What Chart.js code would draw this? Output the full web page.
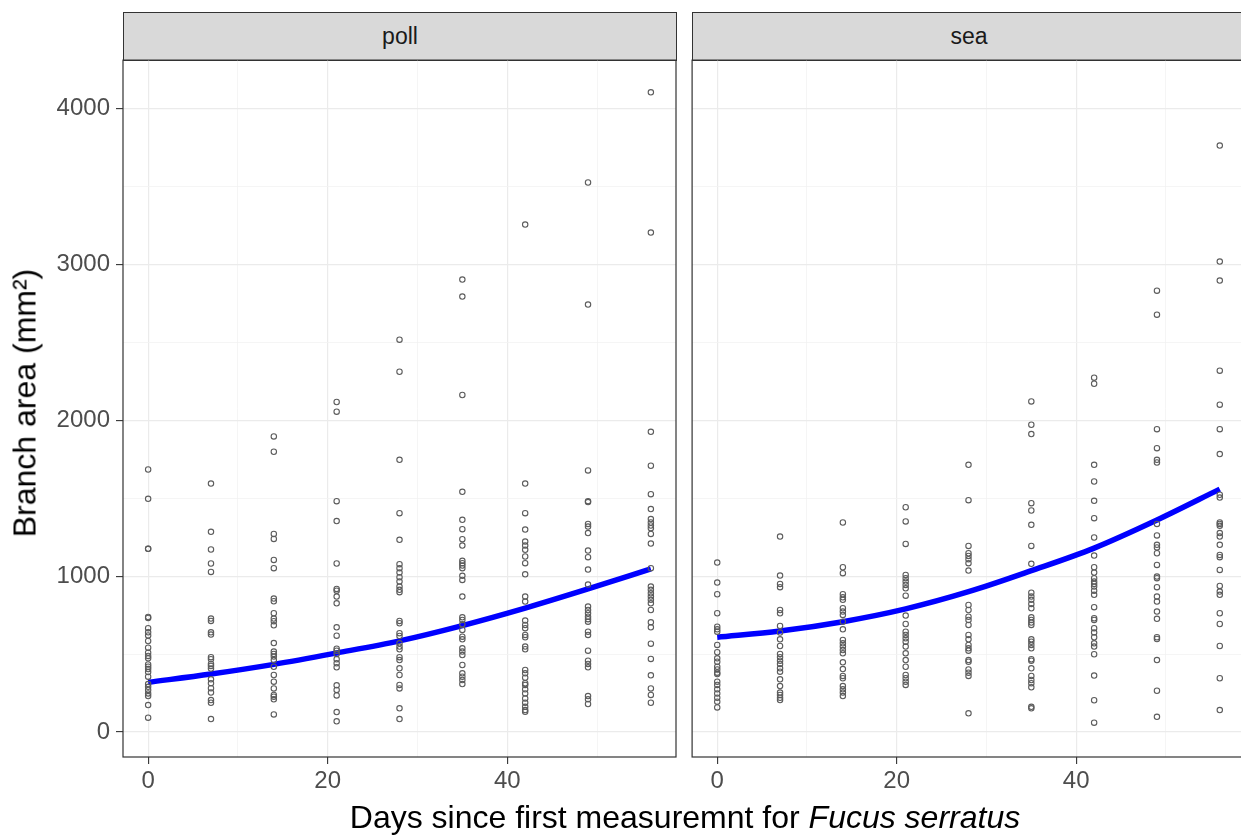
<!DOCTYPE html>
<html>
<head>
<meta charset="utf-8">
<script src="https://cdn.jsdelivr.net/npm/chart.js@4.4.1/dist/chart.umd.min.js"></script>
<style>
  body { margin: 0; width: 1241px; height: 836px; overflow: hidden; background: #fff;
         position: relative; font-family: "Liberation Sans", Arial, sans-serif; }
  .strip { position: absolute; top: 12px; height: 49px; width: 554px; box-sizing: border-box;
           background: #d9d9d9; border: 1.2px solid #333; color: #1a1a1a; font-size: 23px;
           text-align: center; line-height: 46px; }
  .wrap { position: absolute; top: 55px; }
  #ytitle { position: absolute; left: 25px; top: 403px; transform: translate(-50%, -50%) rotate(-90deg);
            font-size: 32px; white-space: nowrap; color: #000; }
  #xtitle { position: absolute; left: 685px; top: 817px; transform: translate(-50%, -50%);
            font-size: 32px; white-space: nowrap; color: #000; }
</style>
</head>
<body>
<div class="strip" style="left:123px">poll</div>
<div class="strip" style="left:692px">sea</div>
<div class="wrap" style="left:0px"><canvas id="pollChart" width="682" height="781"></canvas></div>
<div class="wrap" style="left:687px"><canvas id="seaChart" width="563" height="781"></canvas></div>
<div id="ytitle">Branch area (mm²)</div>
<div id="xtitle">Days since first measuremnt for <i>Fucus serratus</i></div>
<script>
// sampling days (x) and branch areas, one list per day
const days = [0, 7, 14, 21, 28, 35, 42, 49, 56];

const pollAreas = [
  [1684, 1496, 1175, 1175, 738, 732, 666, 640, 620, 584, 541, 509, 488, 473, 434, 419, 404, 385, 355, 308, 290, 270, 248, 231, 173, 92],
  [1594, 1284, 1171, 1081, 1027, 728, 713, 640, 625, 480, 467, 437, 424, 407, 338, 313, 281, 253, 205, 188, 83],
  [1896, 1798, 1271, 1239, 1104, 1051, 856, 839, 762, 728, 711, 685, 571, 516, 501, 484, 462, 419, 366, 323, 280, 238, 227, 210, 113],
  [2117, 2055, 1481, 1353, 1081, 918, 907, 869, 826, 672, 618, 535, 522, 501, 467, 441, 415, 300, 270, 235, 128, 69],
  [2517, 2311, 1746, 1404, 1233, 1077, 1051, 1023, 993, 965, 933, 912, 897, 713, 698, 634, 616, 569, 548, 531, 480, 462, 409, 366, 302, 280, 152, 83],
  [2902, 2793, 2162, 1541, 1361, 1301, 1237, 1196, 1098, 1083, 1068, 1051, 1002, 976, 869, 736, 719, 691, 655, 612, 595, 537, 516, 494, 430, 377, 355, 334, 308],
  [3255, 1594, 1404, 1299, 1222, 1196, 1169, 1126, 1083, 1012, 869, 837, 715, 687, 666, 623, 608, 548, 531, 398, 377, 349, 313, 302, 274, 248, 216, 188, 162, 141, 130],
  [3525, 2742, 1678, 1481, 1475, 1335, 1318, 1276, 1164, 1122, 1042, 946, 805, 783, 762, 740, 724, 708, 644, 623, 522, 458, 437, 415, 231, 210, 180],
  [4103, 3204, 1926, 1708, 1526, 1430, 1366, 1344, 1325, 1308, 1271, 1209, 1051, 933, 912, 890, 869, 848, 826, 783, 704, 672, 567, 469, 364, 280, 238, 188]
];

const seaAreas = [
  [1087, 959, 884, 762, 676, 659, 644, 559, 512, 473, 451, 419, 402, 381, 372, 323, 302, 274, 248, 220, 195, 158],
  [1254, 1004, 950, 929, 783, 762, 681, 638, 595, 552, 501, 480, 458, 437, 409, 387, 338, 295, 253, 238, 220, 205],
  [1344, 1057, 1019, 884, 864, 848, 794, 773, 751, 708, 659, 591, 569, 548, 526, 505, 447, 404, 360, 345, 295, 274, 253, 231],
  [1442, 1351, 1207, 1008, 987, 965, 944, 922, 875, 747, 693, 644, 623, 601, 580, 548, 505, 462, 419, 366, 345, 323, 302],
  [1714, 1487, 1194, 1147, 1130, 1109, 1083, 1036, 815, 783, 740, 719, 687, 623, 595, 559, 537, 522, 462, 451, 402, 381, 360, 120],
  [2121, 1971, 1911, 1468, 1421, 1329, 1194, 1079, 894, 869, 848, 822, 794, 736, 719, 702, 687, 595, 580, 559, 537, 467, 458, 409, 360, 334, 313, 287, 162, 152],
  [2273, 2234, 1714, 1607, 1483, 1372, 1248, 1132, 1057, 1023, 987, 965, 950, 933, 907, 880, 801, 730, 719, 666, 638, 608, 569, 548, 499, 362, 204, 60],
  [2831, 2677, 1943, 1821, 1746, 1729, 1335, 1261, 1201, 1184, 1147, 1072, 997, 987, 929, 869, 837, 773, 726, 608, 597, 462, 265, 98],
  [3762, 3018, 2896, 2318, 2100, 1943, 1783, 1522, 1504, 1344, 1335, 1323, 1276, 1254, 1201, 1136, 1122, 1040, 937, 901, 880, 762, 693, 552, 345, 141]
];

// fitted curve, read at each sampling day
const pollFit = [319, 372, 434, 507, 585, 683, 795, 918, 1047];
const seaFit = [608, 648, 708, 790, 900, 1035, 1180, 1360, 1558];

// labelled ticks and the minor grid positions between them
const xTicks = [0, 20, 40];
const xGrid = [0, 10, 20, 30, 40, 50];
const yTicks = [0, 1000, 2000, 3000, 4000];
const yGrid = [0, 500, 1000, 1500, 2000, 2500, 3000, 3500, 4000];

const tickFont = { family: 'Liberation Sans', size: 24 };
const isMajorX = v => xTicks.includes(v);
const isMajorY = v => yTicks.includes(v);

// ggplot-style full panel border
const panelBorder = {
  id: 'panelBorder',
  afterDraw(chart) {
    const a = chart.chartArea, ctx = chart.ctx;
    ctx.save();
    ctx.strokeStyle = '#333';
    ctx.lineWidth = 1.2;
    ctx.strokeRect(a.left, a.top, a.right - a.left, a.bottom - a.top);
    ctx.restore();
  }
};

function makeChart(id, areas, fit, showY) {
  const pts = [];
  areas.forEach((list, i) => list.forEach(v => pts.push({ x: days[i], y: v })));
  const line = days.map((d, i) => ({ x: d, y: fit[i] }));

  return new Chart(document.getElementById(id), {
    type: 'scatter',
    data: {
      datasets: [
        {
          data: pts,
          pointRadius: 2.7,
          pointBorderWidth: 1.1,
          pointBorderColor: '#5c5c5c',
          pointBackgroundColor: 'rgba(0,0,0,0)',
        },
        {
          type: 'line',
          data: line,
          borderColor: '#0000ff',
          borderWidth: 5.5,
          pointRadius: 0,
          cubicInterpolationMode: 'monotone',
          fill: false,
        }
      ]
    },
    plugins: [panelBorder],
    options: {
      responsive: false,
      animation: false,
      events: [],
      layout: { padding: { left: 0, top: 5, right: showY ? 6 : 5, bottom: 0 } },
      plugins: { legend: { display: false }, tooltip: { enabled: false } },
      scales: {
        x: {
          type: 'linear',
          min: -2.8,
          max: 58.8,
          border: { display: false },
          afterBuildTicks: s => { s.ticks = xGrid.map(v => ({ value: v })); },
          afterFit: s => { s.height = 79; s.paddingLeft = 0; s.paddingRight = 0; },
          ticks: {
            autoSkip: false,
            maxRotation: 0,
            padding: 3,
            color: '#4d4d4d',
            font: tickFont,
            callback: v => isMajorX(v) ? v : ''
          },
          grid: {
            color: c => isMajorX(c.tick && c.tick.value) ? '#ebebeb' : '#f2f2f2',
            lineWidth: c => isMajorX(c.tick && c.tick.value) ? 1.2 : 0.8,
            tickColor: c => isMajorX(c.tick && c.tick.value) ? '#333' : 'rgba(0,0,0,0)',
            tickLength: 7,
            tickWidth: 1.1
          }
        },
        y: {
          type: 'linear',
          min: -160,
          max: 4310,
          border: { display: false },
          afterBuildTicks: s => { s.ticks = yGrid.map(v => ({ value: v })); },
          afterFit: s => { s.width = showY ? 123 : 5; s.paddingTop = 0; s.paddingBottom = 0; },
          ticks: {
            display: showY,
            autoSkip: false,
            padding: 6,
            color: '#4d4d4d',
            font: tickFont,
            callback: v => isMajorY(v) ? v : ''
          },
          grid: {
            drawTicks: showY,
            color: c => isMajorY(c.tick && c.tick.value) ? '#ebebeb' : '#f2f2f2',
            lineWidth: c => isMajorY(c.tick && c.tick.value) ? 1.2 : 0.8,
            tickColor: c => isMajorY(c.tick && c.tick.value) ? '#333' : 'rgba(0,0,0,0)',
            tickLength: 7,
            tickWidth: 1.1
          }
        }
      }
    }
  });
}

makeChart('pollChart', pollAreas, pollFit, true);
makeChart('seaChart', seaAreas, seaFit, false);
</script>
</body>
</html>
